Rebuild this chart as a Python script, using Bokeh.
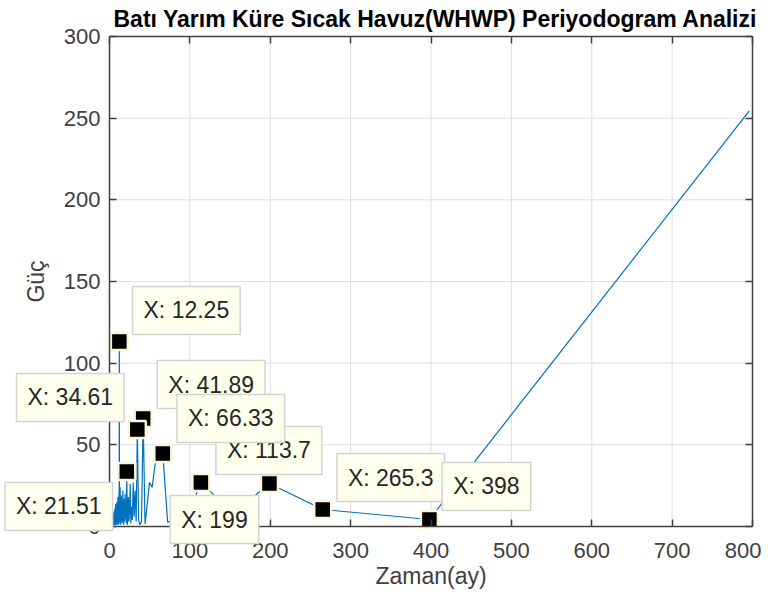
from bokeh.plotting import figure
from bokeh.models import Range1d, LinearAxis, FixedTicker, Label, ColumnDataSource
from bokeh.embed import file_html
from bokeh.resources import INLINE

# ---------------- data ----------------
periods = [796, 398, 265.3, 199, 159.2, 132.7, 113.7, 99.5, 88.44, 79.6,
           72.36, 66.33, 61.23, 56.86, 53.07, 49.75, 46.82, 44.22, 41.89, 39.8,
           37.9, 36.18, 34.61, 33.17, 31.84, 30.62, 29.48, 28.43, 27.45, 26.53,
           25.68, 24.88, 24.12, 23.41, 22.74, 22.11, 21.51, 20.95, 20.41, 19.9,
           19.41, 18.95, 18.51, 18.09, 17.69, 17.3, 16.94, 16.58, 16.24, 15.92,
           15.61, 15.31, 15.02, 14.74, 14.47, 14.21, 13.96, 13.72, 13.49, 13.27,
           13.05, 12.84, 12.63, 12.44, 12.25,
           12.0, 11.8, 11.6, 11.4, 11.2, 11.0, 10.8, 10.6, 10.4, 10.2,
           10.0, 9.8, 9.6, 9.4, 9.2, 9.0, 8.8, 8.6, 8.4, 8.2,
           8.0, 7.8, 7.6, 7.4, 7.2, 7.0, 6.8, 6.6, 6.4, 6.2,
           6.0, 5.8, 5.6, 5.4, 5.2, 5.0, 4.8, 4.6, 4.4, 4.2,
           4.0, 3.8, 3.6, 3.4, 3.2, 3.0, 2.8, 2.6, 2.4, 2.2, 2.0]

power = [254.5, 4.3, 10.4, 26.3, 10, 18, 27, 9, 12, 4,
         2.5, 44.7, 41, 38.5, 24, 27, 13, 1.5, 66.1, 3,
         1, 4, 59.4, 3, 22, 6, 27, 4, 12, 2,
         26, 9, 3, 18, 5, 1, 33.7, 2, 14, 5,
         20, 3, 9, 17, 1, 11, 4, 22, 6, 2,
         15, 8, 3, 19, 5, 10, 1, 13, 7, 24,
         2, 9, 4, 6, 113.3,
         3, 21, 6, 1, 16, 4, 11, 2, 18, 7,
         3, 13, 1, 9, 15, 4, 2, 12, 6, 1,
         10, 3, 14, 5, 2, 8, 1, 11, 4, 2,
         7, 1, 9, 3, 6, 1, 5, 2, 8, 1,
         4, 2, 6, 1, 3, 5, 1, 3, 2, 1, 2]

# data tips (indices into the series), drawn in this order
tip_index = [6, 18, 11, 64, 22, 36, 3, 2, 1]

x_ticks = [0, 100, 200, 300, 400, 500, 600, 700, 800]
y_ticks = [0, 50, 100, 150, 200, 250, 300]
x_lim = (0, 800)
y_lim = (0, 300)

title_text = "Batı Yarım Küre Sıcak Havuz(WHWP) Periyodogram Analizi"
x_label = "Zaman(ay)"
y_label = "Güç"

# ---------------- styling / placement ----------------
# screen-pixel offsets of each tip box centre from its point
tip_offsets = {6: (68, 32), 18: (68, 34), 11: (68, 35), 64: (67, 31),
               22: (-67, 32), 36: (-68, -35), 3: (-55, -36), 2: (68, 32),
               1: (57, 33)}

W, H = 761, 590
BOX_L, BOX_R, BOX_T, BOX_B = 109, 752, 36, 526   # axes box in canvas px
sx = (BOX_R - BOX_L) / (x_lim[1] - x_lim[0])
sy = (BOX_B - BOX_T) / (y_lim[1] - y_lim[0])
xr = Range1d(x_lim[0] - BOX_L / sx, x_lim[1] + (W - BOX_R) / sx)
yr = Range1d(y_lim[0] - (H - BOX_B) / sy, y_lim[1] + BOX_T / sy)

FONT = "Liberation Sans"
AX = "#404040"

p = figure(width=W, height=H, x_range=xr, y_range=yr,
           output_backend="svg", toolbar_location=None,
           min_border=0, min_border_left=0, min_border_right=0,
           min_border_top=0, min_border_bottom=0)
p.background_fill_color = "white"
p.border_fill_color = "white"
p.outline_line_color = None
p.xgrid.visible = False
p.ygrid.visible = False


def style_axis(ax, ticks, bounds, loc):
    ax.ticker = FixedTicker(ticks=ticks)
    ax.bounds = bounds
    ax.fixed_location = loc
    ax.major_label_text_font = FONT
    ax.major_label_text_font_size = "22px"
    ax.major_label_text_color = AX
    ax.major_tick_in = 7
    ax.major_tick_out = 0
    ax.major_tick_line_color = AX
    ax.major_tick_line_width = 1.5
    ax.minor_tick_line_color = None
    ax.axis_line_color = AX
    ax.axis_line_width = 1.5
    ax.axis_label_text_font = FONT
    ax.axis_label_text_font_size = "23px"
    ax.axis_label_text_font_style = "normal"
    ax.axis_label_text_color = AX


xa = p.xaxis[0]
ya = p.yaxis[0]
style_axis(xa, x_ticks, x_lim, y_lim[0])
style_axis(ya, y_ticks, y_lim, x_lim[0])
xa.axis_label = x_label
ya.axis_label = y_label
xa.major_label_standoff = 16
ya.major_label_standoff = 9
xa.axis_label_standoff = 2
ya.axis_label_standoff = 12

top = LinearAxis()
right = LinearAxis()
style_axis(top, x_ticks, x_lim, y_lim[1])
style_axis(right, y_ticks, y_lim, x_lim[1])
for ax in (top, right):
    ax.major_label_text_color = None
    ax.major_label_standoff = 0
p.add_layout(top, "above")
p.add_layout(right, "right")

# grid lines inside the axes box
p.segment(x0=x_ticks, y0=[y_lim[0]] * len(x_ticks), x1=x_ticks, y1=[y_lim[1]] * len(x_ticks),
          line_color="#DFDFDF", line_width=1)
p.segment(x0=[x_lim[0]] * len(y_ticks), y0=y_ticks, x1=[x_lim[1]] * len(y_ticks), y1=y_ticks,
          line_color="#DFDFDF", line_width=1)

src = ColumnDataSource(dict(x=periods, y=power))
p.line("x", "y", source=src, line_color="#0072BD", line_width=1.2)

tx = [periods[i] for i in tip_index]
ty = [power[i] for i in tip_index]
p.scatter(tx, ty, marker="square", size=17, fill_color="black",
          line_color="#FBF6D9", line_width=2.5)

for i in tip_index:
    dx, dy = tip_offsets[i]
    p.add_layout(Label(x=periods[i], y=power[i], x_offset=dx, y_offset=dy,
                       text="X: %s" % format(periods[i], ".4g"),
                       text_font=FONT, text_font_size="23px", text_color="#262626",
                       text_align="center", text_baseline="middle",
                       background_fill_color="#FFFFEE", border_line_color="#D4D4D4",
                       border_line_width=1.5, padding=11))

# title
p.add_layout(Label(x=x_lim[0], y=y_lim[1], x_offset=4, y_offset=18, text=title_text,
                   text_font=FONT, text_font_style="bold", text_font_size="23px",
                   text_color="black", text_align="left", text_baseline="middle"))

open("out.html", "w").write(file_html(p, INLINE))
